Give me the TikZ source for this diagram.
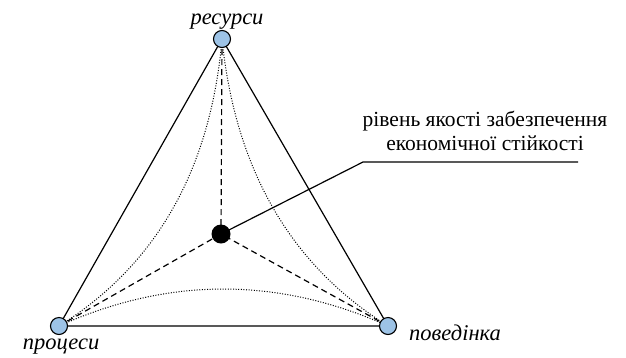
\documentclass[tikz,border=0pt]{standalone}
\usepackage{fontspec}
\setmainfont{Liberation Serif}
\begin{document}
\begin{tikzpicture}[x=1bp,y=-1bp,
  vtx/.style={circle,draw=black,fill=vblue,line width=1.1bp,minimum size=17bp,inner sep=0pt},
  ctr/.style={circle,fill=black,minimum size=19bp,inner sep=0pt},
  side/.style={line width=1.2bp},
  dashln/.style={dash pattern=on 6bp off 4bp,line width=1.2bp},
  dots/.style={dash pattern=on 1bp off 1.6bp,line width=1bp},
  lbl/.style={font=\fontsize{22.5bp}{25bp}\selectfont\itshape,inner sep=0pt},
  txt/.style={font=\fontsize{21.5bp}{24bp}\selectfont,align=center,inner sep=0pt}]
\definecolor{vblue}{RGB}{157,195,230}
\useasboundingbox (0,0) rectangle (626,357);
\coordinate (T) at (222,39);
\coordinate (L) at (59,326);
\coordinate (R) at (388,326);
\coordinate (C) at (221,234);
\coordinate (k1) at (363,162);
\coordinate (k2) at (578,162);
% sides
\draw[side] (T) -- (L) -- (R) -- cycle;
% dotted curves
\draw[dots] (T) .. controls (210.7,169.7) and (156.3,265.3) .. (L);
\draw[dots] (T) .. controls (235.3,169.7) and (290.7,265.3) .. (R);
\draw[dots] (L) .. controls (168.7,276.7) and (278.3,276.7) .. (R);
% dashed to centre
\draw[dashln] (T) -- (C);
\draw[dashln] (L) -- (C);
\draw[dashln] (R) -- (C);
% leader
\draw[side] (C) -- (k1) -- (k2);
% nodes
\node[vtx] (nt) at (T) {};
\node[vtx] (nl) at (L) {};
\node[vtx] (nr) at (R) {};
\node[ctr] (nc) at (C) {};
\node[lbl,anchor=base] (lt) at (227,24) {ресурси};
\node[lbl,anchor=base] (ll) at (61,349) {процеси};
\node[lbl,anchor=base west] (lr) at (409,340) {поведінка};
\node[txt,anchor=base] (q) at (485,150) {рівень якості забезпечення\\економічної стійкості};
\end{tikzpicture}
\end{document}
